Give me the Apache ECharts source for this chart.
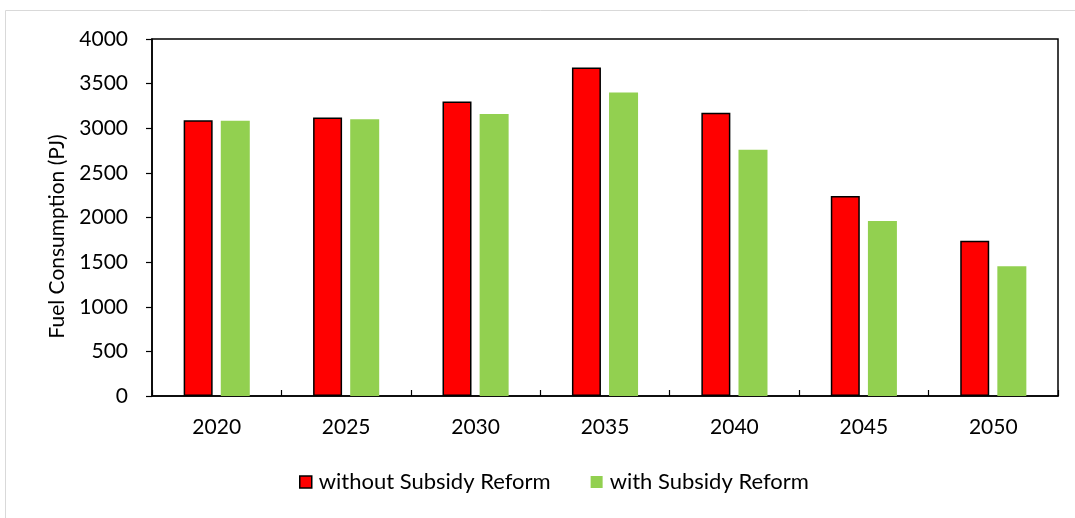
<!DOCTYPE html>
<html>
<head>
<meta charset="utf-8">
<script src="https://cdn.jsdelivr.net/npm/echarts@6/dist/echarts.min.js"></script>
<style>html,body{margin:0;padding:0;background:#fff;}#c{width:1075px;height:518px;}</style>
</head>
<body>
<div id="c"></div>
<script>
const categories = ['2020','2025','2030','2035','2040','2045','2050'];
const withoutReform = [3090, 3120, 3300, 3680, 3175, 2240, 1740];
const withReform = [3085, 3100, 3160, 3400, 2760, 1960, 1455];
const seriesNames = ['without Subsidy Reform', 'with Subsidy Reform'];
const yAxisName = 'Fuel Consumption (PJ)';

const FONT = 'Lato';
const chart = echarts.init(document.getElementById('c'), null, {renderer:'canvas'});
chart.setOption({
  animation: false,
  backgroundColor: '#fff',
  textStyle: {fontFamily: FONT},
  graphic: [{
    type: 'rect', silent: true,
    shape: {x: 5.5, y: 10.5, width: 1080, height: 520},
    style: {fill: 'none', stroke: '#d9d9d9', lineWidth: 1}
  }],
  grid: {left: 152, right: 17, top: 39, bottom: 122, show: true, borderColor: '#000', borderWidth: 1.5, backgroundColor: 'transparent'},
  legend: {
    bottom: 20, left: 294, itemWidth: 12, itemHeight: 12, itemGap: 40, icon: 'rect',
    textStyle: {fontFamily: FONT, fontSize: 22, color: '#000', padding: [0,0,0,2]},
    data: [
      {name: seriesNames[0], itemStyle: {color: '#ff0000', borderColor: '#000', borderWidth: 1.5}},
      {name: seriesNames[1], itemStyle: {color: '#92d050'}}
    ]
  },
  xAxis: {
    type: 'category', data: categories,
    axisLine: {lineStyle: {color: '#000', width: 1.5}},
    axisTick: {show: true, inside: true, length: 6, lineStyle: {color: '#000', width: 1.2}},
    axisLabel: {color: '#000', fontSize: 21, margin: 21, fontFamily: FONT}
  },
  yAxis: {
    type: 'value', min: 0, max: 4000, interval: 500,
    name: yAxisName, nameLocation: 'middle', nameGap: 84, nameRotate: 90,
    nameTextStyle: {color: '#000', fontSize: 21, fontFamily: FONT, padding: [0, 38, 0, 0]},
    axisLine: {show: true, lineStyle: {color: '#000', width: 1.5}},
    axisTick: {show: true, length: 6, lineStyle: {color: '#000', width: 1.2}},
    axisLabel: {color: '#000', fontSize: 21, margin: 24, fontFamily: FONT, formatter: v => String(v)},
    splitLine: {show: false}
  },
  series: [
    {name: seriesNames[0], type: 'bar', data: withoutReform, barWidth: 29, barGap: '28%',
     itemStyle: {color: '#ff0000', borderColor: '#000', borderWidth: 1.5}},
    {name: seriesNames[1], type: 'bar', data: withReform, barWidth: 29,
     itemStyle: {color: '#92d050'}}
  ]
});
</script>
</body>
</html>
